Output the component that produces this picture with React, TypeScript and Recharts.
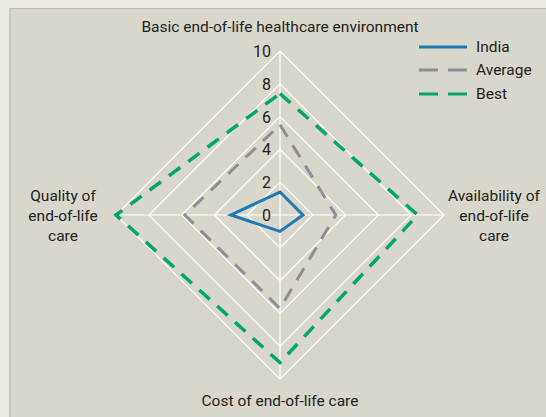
import { RadarChart, Radar, PolarGrid, PolarAngleAxis, PolarRadiusAxis } from "recharts"

// axes go clockwise from the top
const categories = [
  "Basic end-of-life healthcare environment",
  "Availability of end-of-life care",
  "Cost of end-of-life care",
  "Quality of end-of-life care",
]
const india = [1.4, 1.4, 1.0, 3.0]
const average = [5.5, 3.4, 5.7, 5.8]
const best = [7.4, 8.4, 9.0, 10]
const radiusTicks = [0, 2, 4, 6, 8, 10]

const FONT = "Roboto, 'Noto Sans', sans-serif"
const TEXT = "#222222"

const series = [
  { key: "India", color: "#1d7ab5", dash: undefined, width: 3 },
  { key: "Average", color: "#8a9097", dash: "14 10", width: 3 },
  { key: "Best", color: "#00a66c", dash: "14 10", width: 3.5 },
]

const data = categories.map((c, i) => ({
  category: c,
  India: india[i],
  Average: average[i],
  Best: best[i],
}))

// multi-line angle labels, offsets from the tick point
const labelLines: Record<string, string[]> = {
  "Basic end-of-life healthcare environment": ["Basic end-of-life healthcare environment"],
  "Availability of end-of-life care": ["Availability of", "end-of-life", "care"],
  "Cost of end-of-life care": ["Cost of end-of-life care"],
  "Quality of end-of-life care": ["Quality of", "end-of-life", "care"],
}

function AngleTick(props: any) {
  const { x, y, payload, index } = props
  const lines = labelLines[payload.value] || [payload.value]
  let tx = x
  let ty = y
  if (index === 0) ty = y - 11
  if (index === 2) ty = y + 19
  if (index === 1) { tx = x + 42; ty = y - 14 }
  if (index === 3) { tx = x - 45; ty = y - 14 }
  return (
    <text x={tx} y={ty} textAnchor="middle" fill={TEXT} fontSize={15.5} fontFamily={FONT}>
      {lines.map((l, i) => (
        <tspan key={i} x={tx} dy={i === 0 ? 0 : 20}>{l}</tspan>
      ))}
    </text>
  )
}

function RadiusTick(props: any) {
  const { x, y, payload } = props
  return (
    <text x={x - 9} y={y + 6} textAnchor="end" fill={TEXT} fontSize={16} fontFamily={FONT}>
      {payload.value}
    </text>
  )
}

export default function App() {
  return (
    <div style={{ position: "absolute", left: 0, top: 0, width: 546, height: 417, background: "#ebebe3", overflow: "hidden" }}>
      <div
        style={{
          position: "absolute",
          left: 9,
          top: 8,
          width: 560,
          height: 430,
          background: "#d9d7cb",
          borderTop: "1px solid #b3bcc7",
          borderLeft: "2px solid #c8c6c5",
        }}
      />
      <div style={{ position: "absolute", left: 0, top: 0 }}>
        <RadarChart
          width={546}
          height={417}
          data={data}
          cx={280}
          cy={215}
          outerRadius={164}
          margin={{ top: 0, right: 0, bottom: 0, left: 0 }}
        >
          <PolarGrid gridType="polygon" stroke="#ffffff" strokeWidth={1.2} strokeOpacity={1} />
          <PolarAngleAxis dataKey="category" tick={<AngleTick />} tickLine={false} axisLine={false} />
          <PolarRadiusAxis
            angle={90}
            domain={[0, 10]}
            ticks={radiusTicks}
            tick={<RadiusTick />}
            axisLine={false}
            tickLine={false}
          />
          {[...series].reverse().map((s) => (
            <Radar
              key={s.key}
              dataKey={s.key}
              stroke={s.color}
              strokeWidth={s.width}
              strokeDasharray={s.dash}
              fill="none"
              fillOpacity={0}
              dot={false}
              isAnimationActive={false}
            />
          ))}
        </RadarChart>
      </div>
      {/* legend */}
      <div style={{ position: "absolute", left: 419, top: 35 }}>
        {series.map((s) => (
          <div key={s.key} style={{ display: "flex", alignItems: "center", height: 23.5 }}>
            <svg width={49} height={6} style={{ marginRight: 8 }}>
              <line x1={0} y1={3} x2={48} y2={3} stroke={s.color} strokeWidth={3} strokeDasharray={s.dash ? "19 10" : undefined} />
            </svg>
            <span style={{ fontFamily: FONT, fontSize: 15.5, color: TEXT }}>{s.key}</span>
          </div>
        ))}
      </div>
    </div>
  )
}
